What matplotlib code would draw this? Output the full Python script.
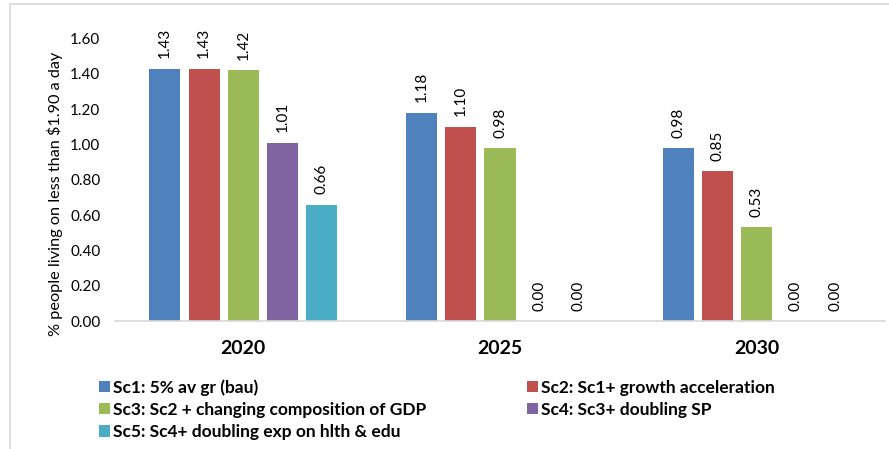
import matplotlib
matplotlib.use("Agg")
import matplotlib.pyplot as plt
from matplotlib.patches import Rectangle
import numpy as np

plt.rcParams['font.family'] = ['Lato', 'DejaVu Sans']

years = ['2020', '2025', '2030']
scenarios = ['Sc1: 5% av gr (bau)',
             'Sc2: Sc1+ growth acceleration',
             'Sc3: Sc2 + changing composition of GDP',
             'Sc4: Sc3+ doubling SP',
             'Sc5: Sc4+ doubling exp on hlth & edu']
sc1 = [1.43, 1.18, 0.98]
sc2 = [1.43, 1.10, 0.85]
sc3 = [1.42, 0.98, 0.53]
sc4 = [1.01, 0.00, 0.00]
sc5 = [0.66, 0.00, 0.00]
colors = ['#4F81BD', '#C0504D', '#9BBB59', '#8064A2', '#4BACC6']

series = [sc1, sc2, sc3, sc4, sc5]

fig = plt.figure(figsize=(8.89, 4.49), dpi=100)
ax = fig.add_axes([0.1294, 0.285, 0.8661, 0.629])

x = np.arange(len(years))
width = 0.121
step = 0.153
bars = []
for i, (vals, name, col) in enumerate(zip(series, scenarios, colors)):
    pos = x + (i - 2) * step
    b = ax.bar(pos, vals, width, color=col, label=name)
    bars.append(b)
    for px, v in zip(pos, vals):
        ax.annotate(f'{v:.2f}', (px, v), xytext=(0, 7.5), textcoords='offset points',
                    rotation=90, ha='center', va='bottom', fontsize=11,
                    annotation_clip=False)

ax.set_xlim(-0.5, 2.5)
ax.set_ylim(0, 1.6)
ticks = np.arange(0, 1.61, 0.2)
ax.set_yticks(ticks)
ax.set_yticklabels([f'{t:.2f}' for t in ticks], fontsize=11)
ax.set_xticks(x)
ax.set_xticklabels(years, fontsize=14, fontweight='bold')
ax.tick_params(axis='x', length=0, pad=14)
ax.tick_params(axis='y', length=0, pad=10.5)
ax.set_ylabel('% people living on less than $1.90 a day', fontsize=11.7,
              labelpad=5, y=0.452)

for s in ['top', 'right', 'left']:
    ax.spines[s].set_visible(False)
ax.spines['bottom'].set_color('#d9d9d9')
ax.spines['bottom'].set_linewidth(1.2)

# excel fills the legend row by row
order = [0, 2, 4, 1, 3]
handles = [bars[i] for i in order]
labels = [scenarios[i] for i in order]
fig.legend(handles, labels, loc='upper left', bbox_to_anchor=(0.1114, 0.156),
           ncol=2, frameon=False,
           prop={'weight': 'bold', 'size': 12.5},
           handlelength=0.65, handleheight=0.65, handletextpad=0.15,
           columnspacing=5.8, labelspacing=0.36, borderpad=0, borderaxespad=0)

fig.patches.append(Rectangle((10 / 889, -0.1), 1.2, 1.1 - 4 / 449,
                             transform=fig.transFigure, fill=False,
                             edgecolor='#d9d9d9', linewidth=1.2))

fig.savefig('out.png', dpi=100)
